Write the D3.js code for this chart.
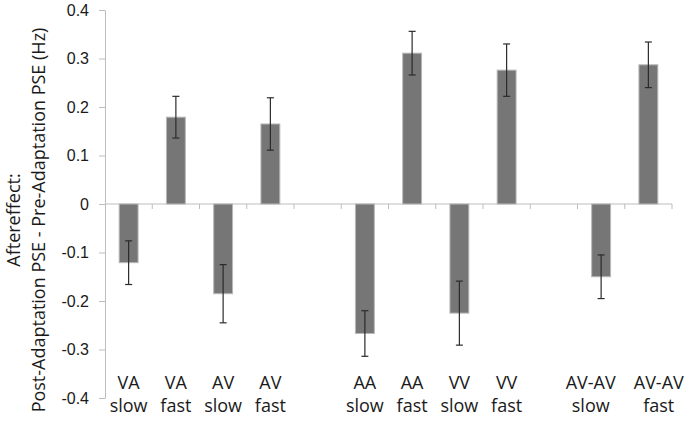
<!DOCTYPE html>
<html lang="en">
<head>
    <meta charset="UTF-8">
    <title>Aftereffect by adaptation condition</title>
    <script src="https://d3js.org/d3.v7.min.js"></script>
    <style>
        body {
            margin: 0;
            background: #fff;
        }
        svg {
            display: block;
            font-family: "Open Sans", Arial, sans-serif;
        }
        text {
            fill: #1a1a1a;
        }
        .axis path, .axis line {
            stroke: #bdbdbd;
        }
        .axis text {
            font-size: 16px;
            fill: #1a1a1a;
        }
    </style>
</head>
<body>
    <svg width="687" height="427"></svg>

    <script>
        // slots of the chart; empty strings are the gaps between groups
        const labelTop = ["VA", "VA", "AV", "AV", "", "AA", "AA", "VV", "VV", "", "AV-AV", "AV-AV"];
        const labelBottom = ["slow", "fast", "slow", "fast", "", "slow", "fast", "slow", "fast", "", "slow", "fast"];
        const aftereffect = [-0.121, 0.179, -0.185, 0.165, null, -0.267, 0.311, -0.225, 0.276, null, -0.150, 0.287];
        const errors = [0.045, 0.043, 0.060, 0.054, null, 0.047, 0.045, 0.066, 0.054, null, 0.045, 0.047];
        const yTicks = [-0.4, -0.3, -0.2, -0.1, 0, 0.1, 0.2, 0.3, 0.4];

        const svg = d3.select("svg"),
              margin = { top: 10, right: 15, bottom: 29, left: 105 },
              width = +svg.attr("width") - margin.left - margin.right,
              height = +svg.attr("height") - margin.top - margin.bottom,
              g = svg.append("g").attr("transform", `translate(${margin.left},${margin.top})`);

        const slot = d3.scaleBand()
            .domain(d3.range(labelTop.length))
            .range([0, width]);

        const y = d3.scaleLinear()
            .domain([-0.4, 0.4])
            .range([height, 0]);

        // y axis
        g.append("g")
            .attr("class", "axis")
            .call(d3.axisLeft(y)
                .tickValues(yTicks)
                .tickSize(6)
                .tickSizeOuter(0)
                .tickPadding(10)
                .tickFormat(d => d === 0 ? "0" : d.toFixed(1)));

        // x axis line on zero with ticks between slots
        const xAxis = g.append("g").attr("class", "axis");
        xAxis.append("line")
            .attr("x1", 0)
            .attr("x2", width)
            .attr("y1", y(0))
            .attr("y2", y(0));
        xAxis.selectAll("line.tick")
            .data(slot.domain())
            .enter().append("line")
            .attr("class", "tick")
            .attr("x1", d => slot(d) + slot.bandwidth())
            .attr("x2", d => slot(d) + slot.bandwidth())
            .attr("y1", y(0))
            .attr("y2", y(0) + 5);

        const data = aftereffect.map((v, i) => ({ i: i, value: v, err: errors[i] }))
            .filter(d => d.value !== null);

        const barW = slot.bandwidth() * 0.4;
        const cx = i => slot(i) + slot.bandwidth() / 2;

        // bars
        g.selectAll("rect.bar")
            .data(data)
            .enter().append("rect")
            .attr("class", "bar")
            .attr("x", d => cx(d.i) - barW / 2)
            .attr("y", d => y(Math.max(0, d.value)))
            .attr("width", barW)
            .attr("height", d => Math.abs(y(d.value) - y(0)))
            .attr("fill", "#767676")
            .attr("stroke", "#b8b8b8")
            .attr("stroke-width", 1);

        // error bars
        const eb = g.selectAll("g.err")
            .data(data)
            .enter().append("g")
            .attr("class", "err")
            .attr("transform", d => `translate(${cx(d.i)},0)`)
            .attr("stroke", "#2b2b2b")
            .attr("stroke-width", 1.2);

        eb.append("line")
            .attr("y1", d => y(d.value + d.err))
            .attr("y2", d => y(d.value - d.err));
        eb.append("line")
            .attr("x1", -3.5).attr("x2", 3.5)
            .attr("y1", d => y(d.value + d.err))
            .attr("y2", d => y(d.value + d.err));
        eb.append("line")
            .attr("x1", -3.5).attr("x2", 3.5)
            .attr("y1", d => y(d.value - d.err))
            .attr("y2", d => y(d.value - d.err));

        // category labels, two lines
        const labels = g.selectAll("text.cat")
            .data(slot.domain().filter(i => labelTop[i] !== ""))
            .enter().append("text")
            .attr("class", "cat")
            .attr("text-anchor", "middle")
            .attr("font-size", 18);
        labels.append("tspan")
            .attr("class", "top")
            .attr("x", d => cx(d))
            .attr("y", 389 - margin.top)
            .text(d => labelTop[d]);
        labels.append("tspan")
            .attr("x", d => cx(d))
            .attr("y", 412 - margin.top)
            .text(d => labelBottom[d]);

        // push wide labels of a pair apart so they don't run into each other
        labels.each(function(d) {
            const w = d3.select(this).select("tspan.top").node().getComputedTextLength();
            if (w > slot.bandwidth() - 10) {
                const shift = (w - slot.bandwidth()) / 2 + 9;
                const dir = labelBottom[d] === "slow" ? -1 : 1;
                d3.select(this).attr("transform", `translate(${dir * shift},0)`);
            }
        });

        // y axis title, two rotated lines
        const title = svg.append("text")
            .attr("transform", "translate(0,220) rotate(-90)")
            .attr("text-anchor", "middle")
            .attr("font-size", 18);
        title.append("tspan")
            .attr("x", 0)
            .attr("y", 20)
            .text("Aftereffect:");
        title.append("tspan")
            .attr("x", 0)
            .attr("y", 45)
            .text("Post-Adaptation PSE - Pre-Adaptation PSE (Hz)");
    </script>
</body>
</html>
